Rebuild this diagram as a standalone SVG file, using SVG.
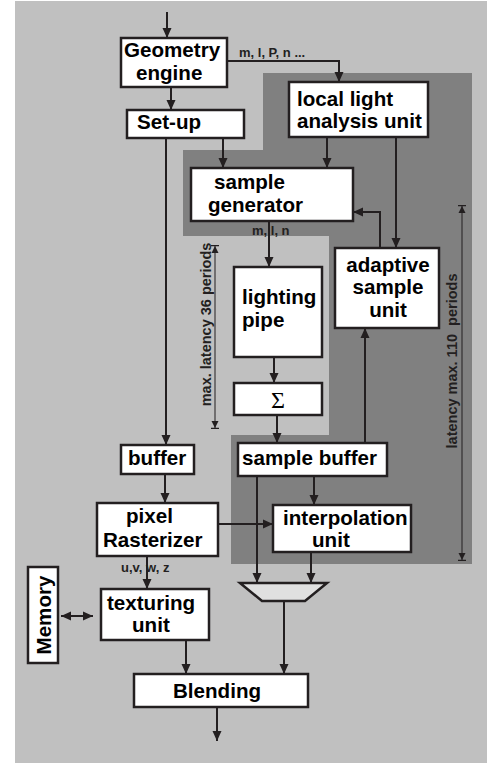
<svg xmlns="http://www.w3.org/2000/svg" width="487" height="763" viewBox="0 0 487 763">
<defs>
<style>
.box{fill:#fff;stroke:#231f20;stroke-width:2.5}
.t{font-family:"Liberation Sans",Arial,sans-serif;font-weight:bold;font-size:20.6px;fill:#000}
.s{font-family:"Liberation Sans",Arial,sans-serif;font-weight:bold;font-size:13px;fill:#231f20}
.r{font-family:"Liberation Sans",Arial,sans-serif;font-weight:bold;font-size:14.5px;fill:#231f20}
.c{fill:none;stroke:#231f20;stroke-width:2}
.d{fill:none;stroke:#231f20;stroke-width:1}
</style>
<marker id="a" viewBox="0 0 10 10" refX="10" refY="5" markerWidth="10" markerHeight="10" markerUnits="userSpaceOnUse" orient="auto-start-reverse">
<path d="M0,0.5 L10,5 L0,9.5 Z" fill="#231f20"/>
</marker>
<marker id="dm" viewBox="0 0 8 8" refX="8" refY="4" markerWidth="8" markerHeight="8" markerUnits="userSpaceOnUse" orient="auto-start-reverse">
<path d="M0,0.5 L7,4 L0,7.5 Z" fill="#231f20"/>
<path d="M7.5,0 V8" stroke="#231f20" stroke-width="1.5"/>
</marker>
</defs>
<rect x="15" y="1" width="472" height="762" fill="#c0c0c0"/>
<polygon points="263,73 472,73 472,564 231,564 231,435 329,435 329,236 183,236 183,150 263,150" fill="#808080"/>

<g id="connectors">
<path class="c" d="M167,12 V38" marker-end="url(#a)"/>
<path class="c" d="M171,87 V110" marker-end="url(#a)"/>
<path class="c" d="M227,61 H339 V82" marker-end="url(#a)"/>
<path class="c" d="M223,138 V168" marker-end="url(#a)"/>
<path class="c" d="M166,138 V445" marker-end="url(#a)"/>
<path class="c" d="M327,137 V168" marker-end="url(#a)"/>
<path class="c" d="M396,137 V248" marker-end="url(#a)"/>
<path class="c" d="M380,248 V212 H353" marker-end="url(#a)"/>
<path class="c" d="M269,221 V267" marker-end="url(#a)"/>
<path class="c" d="M274,357 V383" marker-end="url(#a)"/>
<path class="c" d="M277,415 V443" marker-end="url(#a)"/>
<path class="c" d="M365,443 V328" marker-end="url(#a)"/>
<path class="c" d="M314,476 V505" marker-end="url(#a)"/>
<path class="c" d="M257,476 V583" marker-end="url(#a)"/>
<path class="c" d="M165,474 V503" marker-end="url(#a)"/>
<path class="c" d="M216,524 H273" marker-end="url(#a)"/>
<path class="c" d="M147,556 V589" marker-end="url(#a)"/>
<path class="c" d="M311,552 V583" marker-end="url(#a)"/>
<path class="c" d="M284,601 V674" marker-end="url(#a)"/>
<path class="c" d="M186,640 V674" marker-end="url(#a)"/>
<path class="c" d="M217,707 V741" marker-end="url(#a)"/>
<path class="c" d="M61,616 H93" marker-start="url(#a)" marker-end="url(#a)"/>
<path class="d" d="M215,245 V429" marker-start="url(#dm)" marker-end="url(#dm)"/>
<path class="d" d="M462,205 V561" marker-start="url(#dm)" marker-end="url(#dm)"/>
</g>

<text class="s" x="239" y="57">m, l, P, n ...</text>
<text class="s" x="252" y="235">m, l, n</text>
<text class="s" x="121" y="572">u,v, w, z</text>
<text class="r" transform="translate(211,324.5) rotate(-90)" text-anchor="middle">max. latency 36 periods</text>
<text class="r" transform="translate(457,361) rotate(-90)" text-anchor="middle" xml:space="preserve">latency max. 110  periods</text>

<g id="geometry">
<rect class="box" x="121" y="38" width="106" height="49"/>
<text class="t" x="124" y="57">Geometry</text>
<text class="t" x="136" y="80">engine</text>
</g>
<g id="setup">
<rect class="box" x="127" y="110" width="117" height="28"/>
<text class="t" x="137" y="129">Set-up</text>
</g>
<g id="locallight">
<rect class="box" x="289" y="82" width="139" height="55"/>
<text class="t" x="297" y="106">local light</text>
<text class="t" x="297" y="128">analysis unit</text>
</g>
<g id="samplegen">
<rect class="box" x="191" y="168" width="162" height="53"/>
<text class="t" x="214" y="189">sample</text>
<text class="t" x="208" y="212">generator</text>
</g>
<g id="adaptive">
<rect class="box" x="335" y="248" width="104" height="80"/>
<text class="t" x="388" y="272" text-anchor="middle">adaptive</text>
<text class="t" x="388" y="294" text-anchor="middle">sample</text>
<text class="t" x="388" y="317" text-anchor="middle">unit</text>
</g>
<g id="lighting">
<rect class="box" x="234" y="267" width="88" height="90"/>
<text class="t" x="242" y="304">lighting</text>
<text class="t" x="242" y="327">pipe</text>
</g>
<g id="sigma">
<rect class="box" x="234" y="383" width="88" height="32"/>
<text x="278" y="408" text-anchor="middle" font-family="'Liberation Serif','Times New Roman',serif" font-size="24" fill="#000">Σ</text>
</g>
<g id="samplebuffer">
<rect class="box" x="238" y="443" width="149" height="33"/>
<text class="t" x="242" y="465">sample buffer</text>
</g>
<g id="buffer">
<rect class="box" x="121" y="445" width="73" height="29"/>
<text class="t" x="128" y="465">buffer</text>
</g>
<g id="pixel">
<rect class="box" x="97" y="503" width="121" height="53"/>
<text class="t" x="126" y="523">pixel</text>
<text class="t" x="103" y="547">Rasterizer</text>
</g>
<g id="interp">
<rect class="box" x="273" y="505" width="138" height="47"/>
<text class="t" x="283" y="525">interpolation</text>
<text class="t" x="312" y="547">unit</text>
</g>
<g id="mux">
<polygon points="240,583 327,583 305,601 262,601" fill="#e0e0e0" stroke="#231f20" stroke-width="2.5"/>
</g>
<g id="texturing">
<rect class="box" x="101" y="589" width="108" height="51"/>
<text class="t" x="107" y="610">texturing</text>
<text class="t" x="132" y="632">unit</text>
</g>
<g id="memory">
<rect class="box" x="28" y="567" width="30" height="96"/>
<text class="t" transform="translate(51,615) rotate(-90)" text-anchor="middle">Memory</text>
</g>
<g id="blending">
<rect class="box" x="134" y="674" width="174" height="33"/>
<text class="t" x="217" y="698" text-anchor="middle">Blending</text>
</g>
</svg>
